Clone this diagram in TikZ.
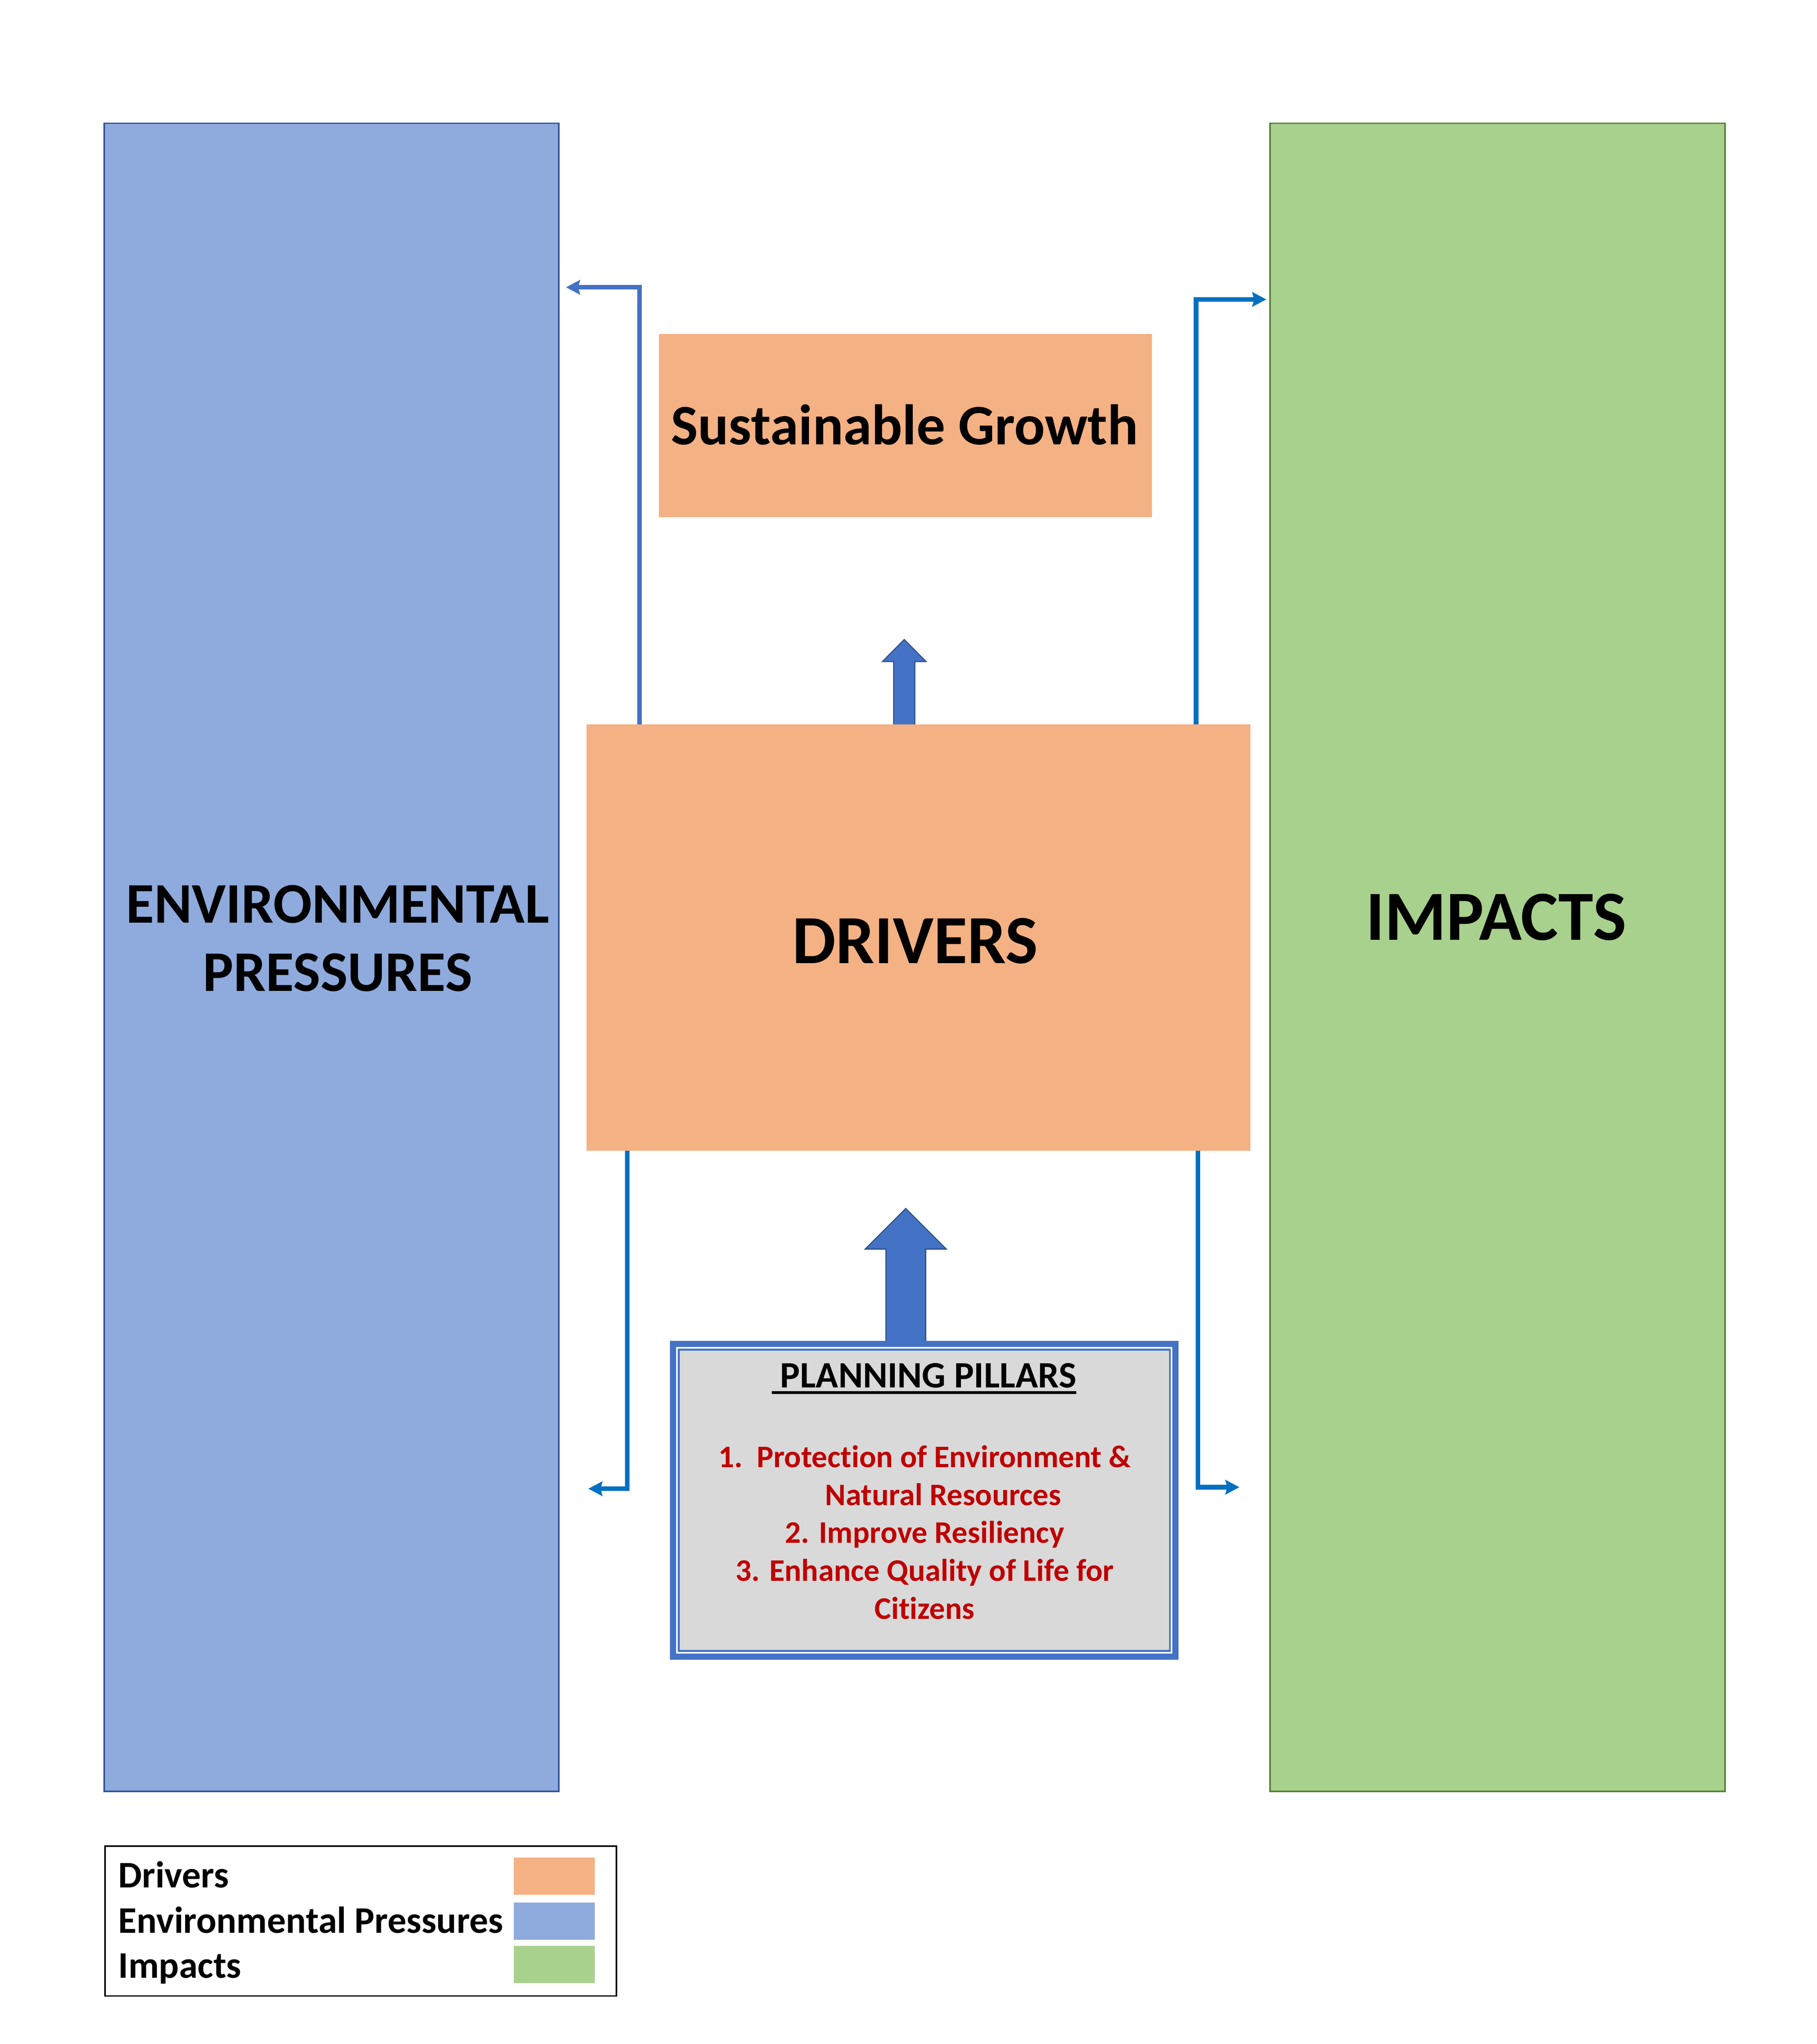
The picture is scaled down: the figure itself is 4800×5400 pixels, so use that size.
\documentclass[tikz,border=0pt]{standalone}
\usepackage{fontspec}
\setmainfont{Carlito}[Ligatures=NoCommon]
\usetikzlibrary{arrows.meta,calc}
\definecolor{drvcol}{HTML}{F4B183}
\definecolor{envcol}{HTML}{8FAADC}
\definecolor{impcol}{HTML}{A9D18E}
\definecolor{envedge}{HTML}{2F5597}
\definecolor{impedge}{HTML}{548235}
\definecolor{blkfill}{HTML}{4472C4}
\definecolor{blkedge}{HTML}{2F528F}
\definecolor{connL}{HTML}{4472C4}
\definecolor{connR}{HTML}{0070C0}
\definecolor{pillred}{HTML}{C00000}
\definecolor{pillgray}{HTML}{D9D9D9}
\newcommand\myul[1]{\setbox0\hbox{#1}\rlap{\rule[-0.165cm]{\wd0}{0.07cm}}\box0}
\begin{document}
\begin{tikzpicture}[x=0.01cm,y=-0.01cm,
  plain/.style={inner sep=0pt,outer sep=0pt},
  conn/.style={line width=0.12cm,-{Stealth[length=0.37cm,width=0.38cm,inset=0.05cm]}},
  blockarrow/.style={fill=blkfill,draw=blkedge,line width=0.03cm,line join=miter},
  bigtext/.style={plain,font=\bfseries,text=black,align=center},
  pilltext/.style={plain,align=center,text=pillred,font=\fontsize{23.6}{28.45}\selectfont\bfseries},
  legtext/.style={plain,anchor=base west,font=\fontsize{28.2}{33}\selectfont\bfseries},
  swatch/.style={plain,minimum width=2.13cm,minimum height=0.98cm}]
\useasboundingbox (0,0) rectangle (4800,5400);

% main boxes
\node[plain,fill=envcol,draw=envedge,line width=0.04cm,minimum width=12.0cm,minimum height=44.04cm] (env) at (876,2529) {};
\node[plain,fill=impcol,draw=impedge,line width=0.04cm,minimum width=12.01cm,minimum height=44.04cm] (imp) at (3956.5,2529) {};
\node[plain,fill=drvcol,minimum width=17.53cm,minimum height=11.26cm] (drv) at (2426.5,2477) {};
\node[plain,fill=drvcol,minimum width=13.02cm,minimum height=4.84cm] (sg) at (2392,1124) {};

% texts in main boxes
\node[bigtext,font=\fontsize{43.2}{51.2}\selectfont\bfseries] (envt) at (892,2479) {ENVIRONMENTAL\\PRESSURES};
\node[bigtext,anchor=base,font=\fontsize{53}{62}\selectfont\bfseries] (impt) at (3953,2483) {IMPACTS};
\node[bigtext,anchor=base,font=\fontsize{51.8}{60}\selectfont\bfseries] (drvt) at (2418,2545) {DRIVERS};
\node[bigtext,anchor=base,font=\fontsize{43}{52}\selectfont\bfseries] (sgt) at (2390,1175) {Sustainable Growth};

% planning pillars box
\node[plain,fill=pillgray,minimum width=13.42cm,minimum height=8.41cm] (pp) at (2442,3963.5) {};
\draw[draw=blkfill,line width=0.16cm] ([shift={(8,8)}]pp.north west) rectangle ([shift={(-8,-8)}]pp.south east);
\draw[draw=white,line width=0.04cm] ([shift={(18,18)}]pp.north west) rectangle ([shift={(-18,-18)}]pp.south east);
\draw[draw=blkfill,line width=0.05cm] ([shift={(22.5,22.5)}]pp.north west) rectangle ([shift={(-22.5,-22.5)}]pp.south east);
\node[plain,anchor=base,font=\fontsize{28}{33}\selectfont\bfseries] (ppt) at (2441.5,3666) {\myul{\ PLANNING PILLARS}};
\node[pilltext] (ppl) at (2443,4048) {1.\ \ Protection of Environment \&\\\hspace*{0.98cm}Natural Resources\\2. Improve Resiliency\\3. Enhance Quality of Life for\\Citizens};

% block arrows
\coordinate (sax) at (2389,0);
\coordinate (sa) at (drv.north -| sax);
\draw[blockarrow] ($(sa)+(-28,0)$) -- ++(0,-166) -- ++(-29.5,0) -- ($(sa)+(0,-224)$) -- ($(sa)+(57.5,-166)$) -- ++(-29.5,0) -- ($(sa)+(28,0)$);
\coordinate (bax) at (2393,0);
\coordinate (ba) at (pp.north -| bax);
\draw[blockarrow] ($(ba)+(-52.5,0)$) -- ++(0,-243) -- ++(-54.5,0) -- ($(ba)+(0,-350)$) -- ($(ba)+(107,-243)$) -- ++(-54.5,0) -- ($(ba)+(52.5,0)$);

% connectors
\coordinate (ulx) at (1690,0);
\coordinate (uly) at (0,759);
\coordinate (urx) at (3160,0);
\coordinate (ury) at (0,791);
\coordinate (llx) at (1657,0);
\coordinate (lly) at (0,3933);
\coordinate (lrx) at (3165,0);
\coordinate (lry) at (0,3929);
\draw[conn,draw=connL] (drv.north -| ulx) |- ([xshift=0.19cm]env.east |- uly);
\draw[conn,draw=connR] (drv.north -| urx) |- ([xshift=-0.1cm]imp.west |- ury);
\draw[conn,draw=connR] (drv.south -| llx) |- ([xshift=0.78cm]env.east |- lly);
\draw[conn,draw=connR] (drv.south -| lrx) |- ([xshift=-0.81cm]imp.west |- lry);

% legend
\node[plain,draw=black,line width=0.04cm,minimum width=13.5cm,minimum height=3.96cm] (leg) at (953,5075) {};
\node[swatch,fill=drvcol] (sw1) at (1464.5,4957) {};
\node[swatch,fill=envcol] (sw2) at (1464.5,5075.5) {};
\node[swatch,fill=impcol] (sw3) at (1464.5,5190) {};
\node[legtext] (lt1) at (313,4987) {Drivers};
\node[legtext] (lt2) at (313,5107) {Environmental Pressures};
\node[legtext] (lt3) at (313,5226) {Impacts};
\end{tikzpicture}
\end{document}
